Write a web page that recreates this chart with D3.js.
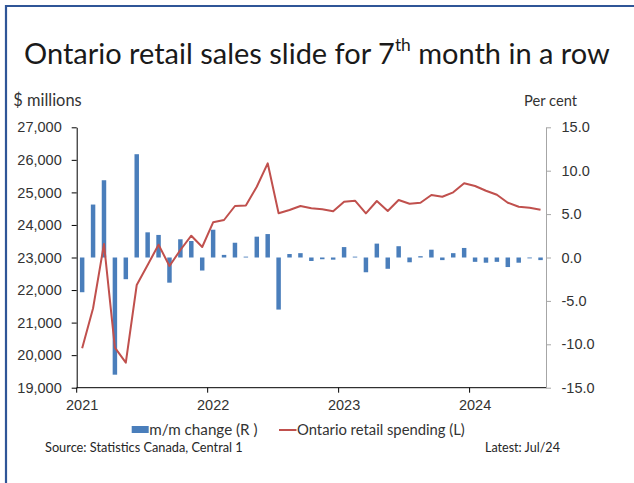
<!DOCTYPE html>
<html lang="en">
<head>
<meta charset="utf-8" />
<title>Ontario retail sales</title>
<script src="https://d3js.org/d3.v7.min.js"></script>
<style>
  body { margin: 0; background: #fff; }
  svg { display: block; font-family: Lato, "Open Sans", sans-serif; }
  .tick text { fill: #333; }
</style>
</head>
<body>
<svg width="634" height="483"></svg>
<script>
// months, Jan 2021 - Jul 2024
var months = [
  "2021-01","2021-02","2021-03","2021-04","2021-05","2021-06","2021-07","2021-08","2021-09","2021-10","2021-11","2021-12",
  "2022-01","2022-02","2022-03","2022-04","2022-05","2022-06","2022-07","2022-08","2022-09","2022-10","2022-11","2022-12",
  "2023-01","2023-02","2023-03","2023-04","2023-05","2023-06","2023-07","2023-08","2023-09","2023-10","2023-11","2023-12",
  "2024-01","2024-02","2024-03","2024-04","2024-05","2024-06","2024-07"
];

// Ontario retail spending, $ millions (left axis)
var spending = [
  20210, 21440, 23415, 20230, 19768, 22155, 22770, 23393, 22740, 23230, 23670, 23322,
  24080, 24152, 24582, 24600, 25175, 25893, 24357, 24459, 24582, 24511, 24480, 24419,
  24714, 24745, 24357, 24735, 24428, 24766, 24653, 24683, 24920, 24868, 25002, 25279,
  25196, 25052, 24929, 24683, 24560, 24530, 24468
];

// m/m change, per cent (right axis)
var change = [
  -4.0, 6.1, 8.9, -13.5, -2.5, 11.9, 2.9, 2.6, -2.9, 2.1, 1.9, -1.5,
  3.2, 0.3, 1.7, 0.1, 2.4, 2.7, -6.0, 0.4, 0.5, -0.4, -0.2, -0.25,
  1.2, 0.1, -1.7, 1.6, -1.3, 1.3, -0.55, 0.15, 0.9, -0.3, 0.5, 1.1,
  -0.5, -0.6, -0.5, -1.1, -0.6, -0.1, -0.3
];

var leftTicks = [19000, 20000, 21000, 22000, 23000, 24000, 25000, 26000, 27000];
var rightTicks = [-15, -10, -5, 0, 5, 10, 15];
var yearTicks = ["2021-01", "2022-01", "2023-01", "2024-01"];

var svg = d3.select("svg");

var plotL = 76.7, plotR = 546, plotT = 127.3, plotB = 387.7;

// frame (top + left edge)
svg.append("path")
  .attr("d", "M6,483V6H634")
  .attr("fill", "none")
  .attr("stroke", "#2f5597")
  .attr("stroke-width", 2.2);

// shrink / grow a text so it spans the given width
function fit(sel, w) {
  var len = sel.node().getComputedTextLength();
  var fs = parseFloat(sel.attr("font-size"));
  sel.attr("font-size", fs * w / len);
  return sel;
}

// title with superscript
var title = svg.append("text")
  .attr("x", 24).attr("y", 63.5)
  .attr("font-size", 30)
  .attr("fill", "#1a1a1a");
title.append("tspan").text("Ontario retail sales slide for 7");
title.append("tspan").attr("font-size", "60%").attr("dy", "-0.7em").text("th");
title.append("tspan").attr("dy", "0.42em").text(" month in a row");
fit(title, 586);

var x = d3.scaleBand()
  .domain(months)
  .range([plotL, plotR])
  .paddingInner(0.59)
  .paddingOuter(0.295);

var yL = d3.scaleLinear().domain([19000, 27000]).range([plotB, plotT]);
var yR = d3.scaleLinear().domain([-15, 15]).range([plotB, plotT]);

// bars
svg.append("g").selectAll("rect")
  .data(change)
  .join("rect")
  .attr("x", function(d, i) { return x(months[i]); })
  .attr("width", x.bandwidth())
  .attr("y", function(d) { return yR(Math.max(0, d)); })
  .attr("height", function(d) { return Math.abs(yR(d) - yR(0)); })
  .attr("fill", "#4a7ebb");

// line
var line = d3.line()
  .x(function(d, i) { return x(months[i]) + x.bandwidth() / 2; })
  .y(function(d) { return yL(d); });

svg.append("path")
  .datum(spending)
  .attr("d", line)
  .attr("fill", "none")
  .attr("stroke", "#c0504d")
  .attr("stroke-width", 2)
  .attr("stroke-linejoin", "round");

// left axis
var gL = svg.append("g")
  .attr("transform", "translate(" + plotL + ",0)")
  .call(d3.axisLeft(yL).tickValues(leftTicks).tickFormat(d3.format(","))
    .tickSize(5).tickSizeOuter(0).tickPadding(10));
gL.selectAll("path, line").attr("stroke", "#000");
gL.selectAll("text").attr("font-size", 14.5).attr("font-family", null);

// right axis
var gR = svg.append("g")
  .attr("transform", "translate(" + plotR + ",0)")
  .call(d3.axisRight(yR).tickValues(rightTicks).tickFormat(function(d) { return d.toFixed(1); })
    .tickSize(5).tickSizeOuter(0).tickPadding(10.5));
gR.selectAll("path, line").attr("stroke", "#a6a6a6");
gR.selectAll("text").attr("font-size", 14.5).attr("font-family", null);

// bottom axis, ticks between categories
var step = x.step();
var gX = svg.append("g")
  .attr("transform", "translate(0," + plotB + ")")
  .call(d3.axisBottom(x).tickValues(yearTicks).tickFormat(function(d) { return d.slice(0, 4); })
    .tickSize(5).tickSizeOuter(0).tickPadding(7));
gX.select(".domain").attr("d", "M" + plotL + ",0H" + plotR).attr("stroke", "#000");
gX.selectAll(".tick line").attr("x1", -step / 2).attr("x2", -step / 2).attr("stroke", "#000");
gX.selectAll("text").attr("font-size", 14.5).attr("font-family", null);

// axis titles
fit(svg.append("text").attr("x", 13.3).attr("y", 105.5).attr("font-size", 14)
  .attr("fill", "#333").text("$ millions"), 68.4);
fit(svg.append("text").attr("x", 577).attr("y", 105.5).attr("font-size", 14)
  .attr("text-anchor", "end").attr("fill", "#333").text("Per cent"), 53);

// legend
svg.append("rect").attr("x", 131.7).attr("y", 426).attr("width", 17).attr("height", 7)
  .attr("fill", "#4a7ebb");
fit(svg.append("text").attr("x", 149.3).attr("y", 434.5).attr("font-size", 14)
  .attr("fill", "#333").text("m/m change (R )"), 108.4);
svg.append("line").attr("x1", 279).attr("x2", 296.5).attr("y1", 430).attr("y2", 430)
  .attr("stroke", "#c0504d").attr("stroke-width", 2);
fit(svg.append("text").attr("x", 297).attr("y", 434.5).attr("font-size", 14)
  .attr("fill", "#333").text("Ontario retail spending (L)"), 168);

// footer
fit(svg.append("text").attr("x", 45).attr("y", 451.5).attr("font-size", 12)
  .attr("fill", "#262626").text("Source: Statistics Canada, Central 1"), 198);
fit(svg.append("text").attr("x", 485).attr("y", 451.5).attr("font-size", 12)
  .attr("fill", "#262626").text("Latest: Jul/24"), 75);
</script>
</body>
</html>
